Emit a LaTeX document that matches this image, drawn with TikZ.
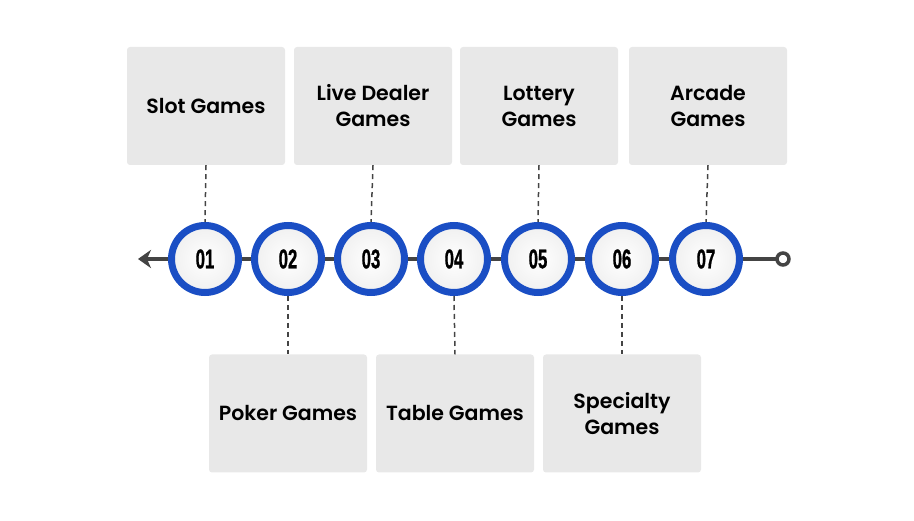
\documentclass[tikz,border=0pt]{standalone}
\usepackage{fontspec}
\setmainfont{Poppins}[UprightFont=* SemiBold, BoldFont=* Bold]
\newfontfamily\numfont{Liberation Sans}[UprightFont=* Bold, FakeBold=1.2]
\usetikzlibrary{arrows.meta}
\definecolor{ringblue}{RGB}{26,78,196}
\definecolor{boxgray}{RGB}{232,232,232}
\definecolor{linegray}{RGB}{68,68,68}
\tikzset{
  catbox/.style={fill=boxgray, rounded corners=3pt, minimum width=158pt, minimum height=118pt, inner sep=0pt, align=center, font=\fontsize{20.5}{26}\selectfont, text=black},
  numcirc/.style={circle, draw=ringblue, line width=7pt, minimum size=67pt, inner sep=0pt, inner color=white, outer color=gray!12, font=\numfont\fontsize{27}{27}\selectfont},
  dashlink/.style={draw=linegray, line width=1.5pt, dash pattern=on 5pt off 4pt},
  axis/.style={draw=linegray, line width=4.5pt}
}
\newcommand{\numtxt}[1]{\scalebox{0.62}[1]{#1}}
\begin{document}
\begin{tikzpicture}[x=1pt,y=-1pt]
\useasboundingbox (0,0) rectangle (914,521);
% axis
\coordinate (L) at (138,259);
\coordinate (R) at (783,259);
\draw[axis, -{Triangle[length=13pt,width=17pt,angle'=70,inset=4pt]}] (R) -- (L);
\node[circle, draw=linegray, line width=3.5pt, fill=white, minimum size=12pt, inner sep=0pt] (Rend) at (R) {};
% boxes
\node[catbox] (b1) at (206,106) {Slot Games};
\node[catbox] (b3) at (373,106) {Live Dealer\\Games};
\node[catbox] (b5) at (539,106) {Lottery\\Games};
\node[catbox] (b7) at (708,106) {Arcade\\Games};
\node[catbox] (b2) at (288,413.5) {Poker Games};
\node[catbox] (b4) at (455,413.5) {Table Games};
\node[catbox] (b6) at (622,413.5) {Specialty\\Games};
% circles
\foreach \i/\x in {1/205,2/288,3/371,4/454,5/538,6/622,7/706}{
  \node[numcirc] (c\i) at (\x,259) {\numtxt{0\i}};
}
% links
\foreach \i in {1,3,5,7}{ \draw[dashlink] (b\i.south) -- (c\i.north); }
\foreach \i in {2,4,6}{ \draw[dashlink] (c\i.south) -- (b\i.north); }
\end{tikzpicture}
\end{document}
